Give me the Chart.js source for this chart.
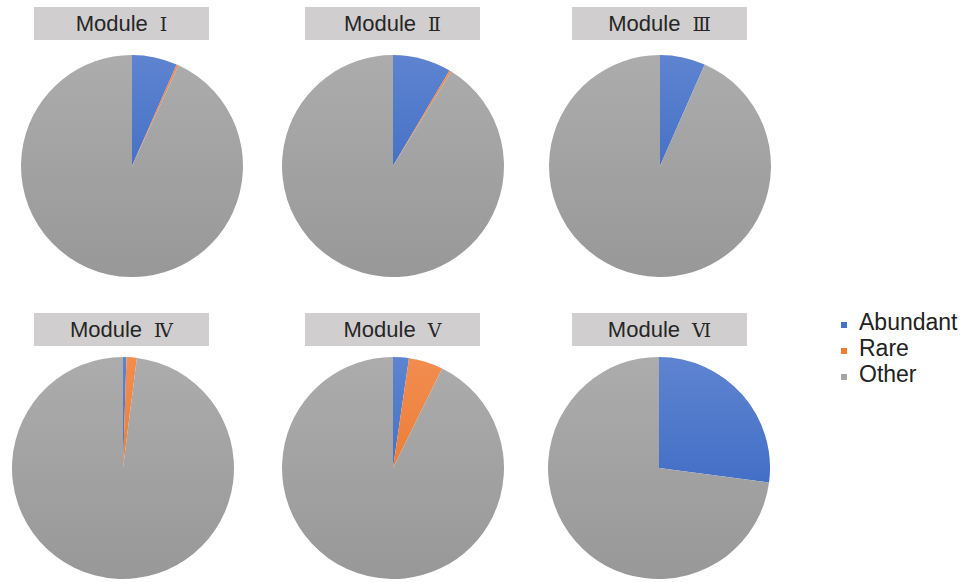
<!DOCTYPE html>
<html>
<head>
<meta charset="utf-8">
<script src="https://cdn.jsdelivr.net/npm/chart.js@4/dist/chart.umd.min.js"></script>
<style>
  body { margin: 0; background: #fff; }
  #wrap { position: relative; width: 970px; height: 583px; overflow: hidden; }
  canvas { position: absolute; }
  .title {
    position: absolute; width: 175px; height: 33px; background: #d0cece;
    font: 22px "Liberation Sans", Arial, sans-serif; color: #262626;
    text-align: center; line-height: 34px;
  }
  .title span { font-family: "DejaVu Serif", serif; font-size: 19px; margin-left: 12px; }
  #legend { position: absolute; left: 841px; top: 309px; font: 23px "Liberation Sans", Arial, sans-serif; color: #222; }
  #legend div { height: 26px; line-height: 26px; }
  #legend i { display: inline-block; width: 6px; height: 6px; margin-right: 12px; vertical-align: 2px; }
</style>
</head>
<body>
<div id="wrap"></div>
<script>
const modules = ["Ⅰ", "Ⅱ", "Ⅲ", "Ⅳ", "Ⅴ", "Ⅵ"];
const categories = ["Abundant", "Rare", "Other"];
const abundant = [6.6, 8.5, 6.6, 0.5, 2.3, 27.1];
const rare = [0.3, 0.3, 0.0, 1.5, 5.0, 0.0];
const other = [93.1, 91.2, 93.4, 98.0, 92.7, 72.9];

const colors = ["#4472c4", "#ed7d31", "#a5a5a5"];
// lighter at the top, darker at the bottom
const shades = [["#5e84d0", "#2f5fbf"], ["#f28d50", "#e46f1f"], ["#acacac", "#989898"]];

// pie centres and title boxes
const centers = [[131.5, 165.5], [392.5, 165.5], [660, 165.5], [123, 468], [393, 468], [658.5, 468]];
const titleX = [34, 305, 572, 34, 305, 572];
const titleY = [7, 7, 7, 313, 313, 313];
const R = 111;

const wrap = document.getElementById('wrap');

modules.forEach((m, i) => {
  const t = document.createElement('div');
  t.className = 'title';
  t.style.left = titleX[i] + 'px';
  t.style.top = titleY[i] + 'px';
  t.innerHTML = 'Module<span>' + m + '</span>';
  wrap.appendChild(t);

  const c = document.createElement('canvas');
  c.width = 2 * R; c.height = 2 * R;
  c.style.left = (centers[i][0] - R) + 'px';
  c.style.top = (centers[i][1] - R) + 'px';
  wrap.appendChild(c);

  new Chart(c, {
    type: 'pie',
    data: {
      labels: categories,
      datasets: [{
        data: [abundant[i], rare[i], other[i]],
        backgroundColor: ctx => {
          const area = ctx.chart.chartArea;
          if (!area) return colors[ctx.dataIndex];
          const g = ctx.chart.ctx.createLinearGradient(0, area.top, 0, area.bottom);
          g.addColorStop(0, shades[ctx.dataIndex][0]);
          g.addColorStop(1, shades[ctx.dataIndex][1]);
          return g;
        },
        borderWidth: 0,
        hoverOffset: 0,
        offset: 0
      }]
    },
    options: {
      responsive: false,
      animation: false,
      layout: { padding: 0 },
      plugins: { legend: { display: false }, tooltip: { enabled: false } }
    }
  });
});

const lg = document.createElement('div');
lg.id = 'legend';
categories.forEach((name, k) => {
  const row = document.createElement('div');
  row.innerHTML = '<i style="background:' + colors[k] + '"></i>' + name;
  lg.appendChild(row);
});
wrap.appendChild(lg);
</script>
</body>
</html>
